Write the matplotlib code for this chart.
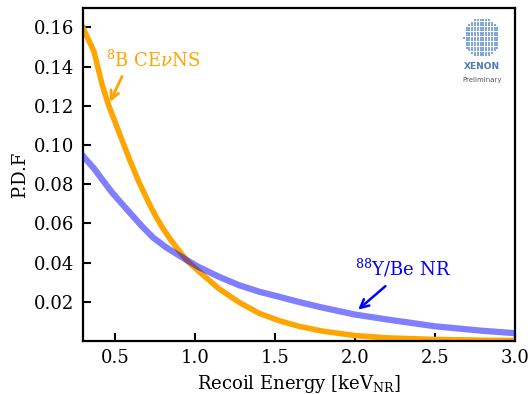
import numpy as np
import matplotlib
matplotlib.use("Agg")
import matplotlib.pyplot as plt

# Data
energy_b8 = [0.30, 0.37, 0.42, 0.46, 0.525, 0.59, 0.65, 0.72, 0.76, 0.80, 0.85, 0.90, 0.95,
             1.025, 1.15, 1.275, 1.40, 1.525, 1.65, 1.80, 2.00, 2.20, 2.50, 2.80, 3.00]
pdf_b8 = [0.160, 0.1476, 0.1310, 0.1205, 0.1067, 0.093, 0.0812, 0.0692, 0.0630, 0.0575, 0.0515,
          0.0462, 0.0410, 0.0355, 0.0267, 0.0198, 0.0142, 0.0104, 0.0075, 0.0050, 0.0028,
          0.0016, 0.0008, 0.0004, 0.0003]

energy_ybe = [0.30, 0.37, 0.48, 0.59, 0.67, 0.74, 0.82, 0.90, 1.025, 1.15, 1.275, 1.40, 1.525,
              1.65, 1.80, 2.00, 2.20, 2.50, 2.80, 3.00]
pdf_ybe = [0.0945, 0.088, 0.076, 0.0658, 0.0585, 0.0527, 0.0478, 0.0437, 0.0377, 0.0328, 0.0285,
           0.0252, 0.0226, 0.0199, 0.0170, 0.0135, 0.0110, 0.0075, 0.0052, 0.0040]

x_ticks = [0.5, 1.0, 1.5, 2.0, 2.5, 3.0]
y_ticks = [0.02, 0.04, 0.06, 0.08, 0.10, 0.12, 0.14, 0.16]

plt.rcParams['font.family'] = ['DejaVu Serif']
plt.rcParams['mathtext.fontset'] = 'dejavuserif'

fig = plt.figure(figsize=(5.31, 3.94), dpi=100)
ax = fig.add_axes([0.156, 0.1345, 0.814, 0.8455])

ax.plot(energy_b8, pdf_b8, color='orange', lw=4, zorder=2, solid_joinstyle='round')
ax.plot(energy_ybe, pdf_ybe, color='blue', alpha=0.5, lw=4.5, zorder=3, solid_joinstyle='round')

ax.set_xlim(0.3, 3.0)
ax.set_ylim(0, 0.17)
ax.set_xticks(x_ticks)
ax.set_yticks(y_ticks)
ax.set_xticklabels([f"{v:.1f}" for v in x_ticks])
ax.set_yticklabels([f"{v:.2f}" for v in y_ticks])
ax.tick_params(direction='in', length=6, width=1.5, labelsize=13, pad=6)
for s in ax.spines.values():
    s.set_linewidth(1.6)

ax.set_xlabel(r"Recoil Energy [keV$_{\mathrm{NR}}$]", fontsize=13)
ax.set_ylabel("P.D.F", fontsize=13)

ax.text(0.445, 0.140, r"$^{8}$B CE$\nu$NS", color='orange', fontsize=13,
        ha='left', va='baseline')
ax.annotate("", xy=(0.469, 0.122), xytext=(0.545, 0.135),
            arrowprops=dict(arrowstyle='->', color='orange', lw=2,
                            shrinkA=0, shrinkB=0, mutation_scale=15))

ax.text(2.0, 0.0335, r"$^{88}$Y/Be NR", color='blue', fontsize=13,
        ha='left', va='baseline')
ax.annotate("", xy=(2.02, 0.016), xytext=(2.19, 0.028),
            arrowprops=dict(arrowstyle='->', color='blue', lw=1.8,
                            shrinkA=0, shrinkB=0, mutation_scale=15))

# XENON logo (decorative)
cx, cy, rx, ry = 0.9236, 0.911, 0.042, 0.060
gx = np.arange(-rx, rx + 1e-9, rx / 6.5)
gy = np.arange(-ry, ry + 1e-9, ry / 8)
pts = [(cx + a, cy + b) for a in gx for b in gy if (a / rx) ** 2 + (b / ry) ** 2 <= 1.0]
px, py = zip(*pts)
ax.scatter(px, py, s=2.2, marker='s', color='#82a8dc', transform=ax.transAxes, lw=0, zorder=5)
ax.text(cx, 0.823, "XENON", transform=ax.transAxes, ha='center', va='center',
        fontsize=6.5, fontweight='bold', color='#4f79b8', family='DejaVu Sans')
ax.text(cx, 0.784, "Preliminary", transform=ax.transAxes, ha='center', va='center',
        fontsize=5, color='#555555', family='DejaVu Sans')

fig.savefig("out.png", dpi=100)
